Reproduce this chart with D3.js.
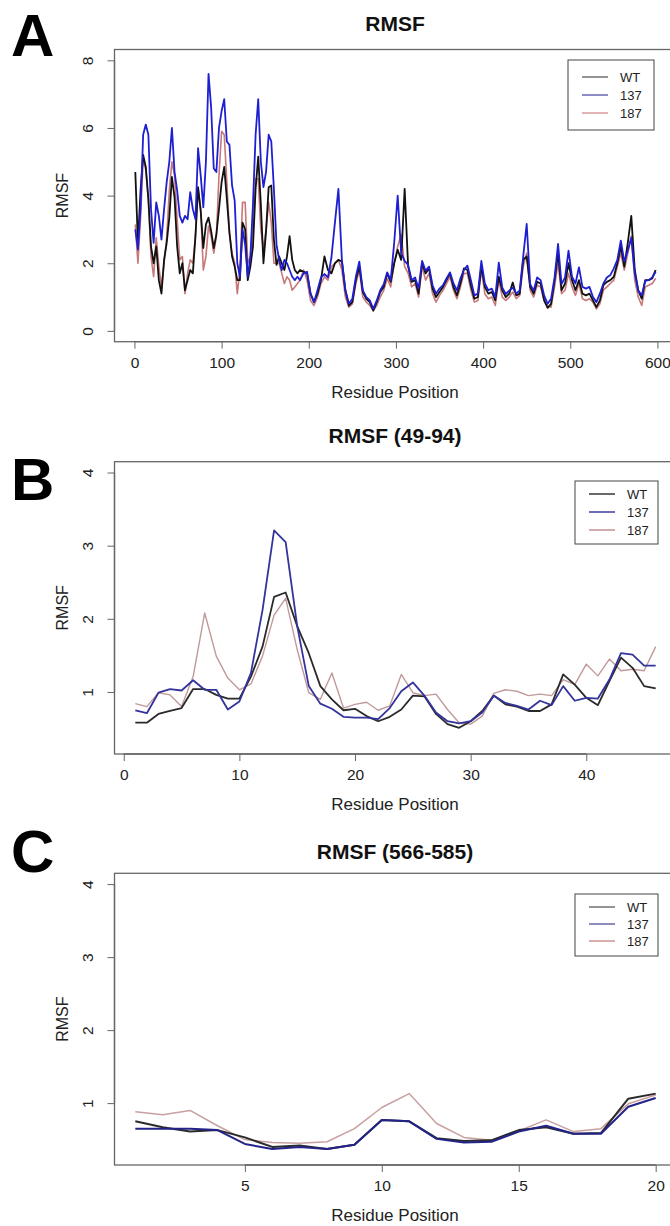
<!DOCTYPE html>
<html><head><meta charset="utf-8">
<script src="https://cdn.jsdelivr.net/npm/d3@7"></script>
<style>body{margin:0;background:#fff}svg{display:block}text{font-family:"Liberation Sans",Arial,sans-serif}</style>
</head><body><svg id="c" width="670" height="1226"></svg>
<script>
// ---------- DATA ----------
const seriesNames = ["WT", "137", "187"];

// Panel A: residue positions and RMSF values
const posA = [...d3.range(1, 190, 3), ...d3.range(190, 601, 4)];
const wtA = [4.7,2.6,4.15,5.2,4.85,3.9,2.5,2.0,2.5,1.5,
 1.1,2.1,2.6,3.35,4.55,3.95,2.5,1.7,2.0,1.2,
 1.5,1.8,1.7,2.8,4.25,3.55,2.45,3.15,3.35,2.95,
 2.45,2.85,3.6,4.4,4.85,3.9,2.9,2.2,1.9,1.5,
 1.5,3.2,3.0,1.5,1.9,2.5,4.2,5.15,3.75,2.0,
 2.95,4.25,4.3,2.7,1.95,2.2,2.0,1.8,2.2,2.8,
 2.1,1.8,1.7,
 1.8,1.75,1.7,1.1,0.85,1.1,1.5,2.2,1.8,1.7,
 2.0,2.1,2.05,1.2,0.75,0.85,1.5,1.9,1.15,0.95,
 0.85,0.6,0.85,1.15,1.3,1.7,1.45,2.0,2.4,2.1,
 4.2,1.9,1.45,1.5,1.1,2.0,1.7,1.85,1.25,1.0,
 1.15,1.3,1.5,1.7,1.3,1.05,1.4,1.85,1.8,1.35,
 0.95,1.0,1.9,1.3,1.1,1.15,0.9,1.6,1.2,1.0,
 1.1,1.43,1.05,1.1,2.1,2.2,1.3,1.1,1.45,1.4,
 0.9,0.68,0.8,1.5,2.3,1.2,1.4,2.0,1.5,1.2,
 1.5,1.1,1.05,1.1,0.9,0.7,0.9,1.35,1.45,1.5,
 1.6,2.0,2.5,1.9,2.6,3.4,1.8,1.2,0.95,1.5,
 1.5,1.55,1.8];
const m137A = [3.0,2.4,3.6,5.8,6.1,5.8,3.6,2.6,3.8,3.4,
 2.7,3.6,4.4,5.0,6.0,4.7,4.15,3.4,3.2,3.4,
 3.3,4.1,3.6,3.3,5.4,4.6,3.65,5.0,7.6,6.6,
 4.8,4.7,6.0,6.5,6.85,5.6,5.5,4.3,3.85,2.0,
 1.6,3.0,2.55,1.6,2.2,3.75,5.8,6.85,5.0,4.25,
 4.7,5.8,5.6,4.2,2.55,2.1,1.8,2.1,2.0,1.8,
 1.6,1.5,1.6,
 1.5,1.7,1.75,1.1,0.85,1.2,1.58,1.68,1.58,2.17,
 3.2,4.2,2.1,1.2,0.8,0.95,1.6,2.05,1.2,1.0,
 0.9,0.65,0.9,1.2,1.38,1.73,1.5,2.6,4.0,2.3,
 2.07,1.95,1.5,1.58,1.25,2.07,1.78,1.9,1.35,1.1,
 1.25,1.35,1.55,1.73,1.4,1.2,1.55,1.8,1.93,1.5,
 1.05,1.1,2.07,1.4,1.2,1.25,1.0,2.02,1.28,1.09,
 1.19,1.28,1.1,1.2,2.2,3.16,1.38,1.19,1.58,1.5,
 1.05,0.8,0.95,1.58,2.57,1.38,1.58,2.37,1.6,1.4,
 1.88,1.3,1.25,1.3,1.0,0.85,1.1,1.4,1.58,1.65,
 1.85,2.1,2.67,2.05,2.37,2.75,1.7,1.19,1.05,1.48,
 1.5,1.58,1.75];
const m187A = [3.15,2.0,3.35,5.1,4.75,3.85,2.2,1.6,2.75,1.9,
 1.3,2.0,2.75,4.15,5.0,4.6,3.3,2.1,2.2,1.1,
 1.7,2.1,2.0,2.8,4.2,3.6,1.8,2.2,3.1,2.8,
 2.3,2.8,4.6,5.9,5.8,4.4,2.9,2.3,2.0,1.1,
 1.8,3.8,3.8,2.0,2.2,3.1,4.5,4.5,3.0,2.4,
 3.0,3.8,3.2,2.0,2.0,2.0,1.7,1.4,1.6,1.5,
 1.2,1.3,1.4,
 1.5,1.8,1.5,0.9,0.75,1.0,1.4,1.6,1.5,1.9,
 2.0,2.1,1.8,1.0,0.7,0.8,1.4,1.8,1.0,0.85,
 0.75,0.6,0.75,1.0,1.2,1.55,1.3,2.0,2.5,2.85,
 1.9,1.7,1.3,1.4,1.0,1.9,1.5,1.7,1.1,0.85,
 1.05,1.2,1.4,1.6,1.2,0.95,1.3,1.7,1.7,1.2,
 0.85,0.9,1.8,1.1,0.95,1.0,0.75,1.5,1.0,0.9,
 1.0,1.15,0.95,1.05,1.9,2.3,1.2,1.0,1.35,1.3,
 0.9,0.72,0.7,1.3,2.0,1.1,1.2,1.7,1.3,1.05,
 1.4,0.95,0.9,0.95,0.85,0.65,0.8,1.2,1.3,1.4,
 1.5,1.9,2.3,1.8,2.3,2.8,1.5,1.0,0.75,1.3,
 1.35,1.4,1.55];

// Panel B: residues 49-94, positions 1..46
const posB = d3.range(1, 47);
const wtB = [0.58,0.58,0.70,0.74,0.78,1.04,1.04,0.96,0.91,0.91,
 1.21,1.62,2.30,2.36,1.90,1.53,1.08,0.90,0.75,0.77,
 0.67,0.60,0.66,0.76,0.95,0.94,0.70,0.56,0.51,0.60,
 0.74,0.95,0.83,0.80,0.74,0.74,0.83,1.24,1.10,0.92,
 0.82,1.15,1.47,1.33,1.08,1.05];
const m137B = [0.75,0.71,0.99,1.04,1.02,1.16,1.03,1.03,0.76,0.87,
 1.26,2.12,3.21,3.05,1.90,1.08,0.84,0.77,0.66,0.65,
 0.65,0.63,0.78,1.01,1.13,0.95,0.72,0.60,0.57,0.60,
 0.72,0.95,0.85,0.81,0.76,0.88,0.82,1.08,0.88,0.92,
 0.91,1.17,1.53,1.51,1.36,1.36];
const m187B = [0.84,0.80,0.99,0.96,0.80,1.21,2.08,1.49,1.19,1.03,
 1.11,1.49,2.05,2.28,1.58,0.99,0.90,1.26,0.78,0.83,
 0.86,0.75,0.81,1.24,0.99,0.95,0.97,0.76,0.58,0.56,
 0.67,0.98,1.03,1.01,0.95,0.97,0.95,1.17,1.10,1.38,
 1.22,1.45,1.29,1.31,1.29,1.62];

// Panel C: residues 566-585, positions 1..20
const posC = d3.range(1, 21);
const wtC = [0.75,0.67,0.61,0.63,0.53,0.40,0.42,0.37,0.43,0.77,0.75,0.52,0.48,0.49,0.63,0.67,0.58,0.59,1.06,1.13];
const m137C = [0.65,0.65,0.65,0.63,0.44,0.37,0.40,0.37,0.43,0.77,0.75,0.51,0.46,0.47,0.61,0.69,0.58,0.58,0.95,1.07];
const m187C = [0.88,0.84,0.90,0.69,0.50,0.46,0.45,0.47,0.65,0.94,1.13,0.72,0.53,0.49,0.62,0.77,0.61,0.65,0.99,1.11];

// Axis ticks
const xTicksA = [0,100,200,300,400,500,600];
const yTicksA = [0,2,4,6,8];
const xTicksB = [0,10,20,30,40];
const xTicksC = [5,10,15,20];
const yTicksBC = [1,2,3,4];

// ---------- DRAW ----------
const svg = d3.select("#c");
const L = 114.5, R = 676.5;
const FF = '"Liberation Sans",Arial,sans-serif';

function panel(o) {
  const g = svg.append("g");
  const ext = d3.extent(o.pos), dx = (ext[1]-ext[0])*0.04;
  const x = d3.scaleLinear().domain([ext[0]-dx, ext[1]+dx]).range([L, R]);
  const dy = (o.ylim[1]-o.ylim[0])*0.04;
  const y = d3.scaleLinear().domain([o.ylim[0]-dy, o.ylim[1]+dy]).range([o.bottom, o.top]);

  g.append("text").attr("x", o.letterX).attr("y", o.letterY).attr("font-size", 60)
    .attr("font-weight", "bold").attr("fill", "#000").text(o.letter);
  g.append("text").attr("x", 395).attr("y", o.titleY).attr("text-anchor", "middle")
    .attr("font-size", 21).attr("font-weight", "bold").attr("fill", "#111").text(o.title);

  const line = d3.line().x((d,i)=>x(o.pos[i])).y(d=>y(d));
  const sets = [o.wt, o.m137, o.m187];
  [2,0,1].forEach(k => {
    g.append("path").attr("d", line(sets[k])).attr("fill", "none")
      .attr("stroke", o.colors[k]).attr("stroke-width", o.lw[k]).attr("stroke-linejoin", "round");
  });

  g.append("rect").attr("x", L).attr("y", o.top).attr("width", R-L).attr("height", o.bottom-o.top)
    .attr("fill", "none").attr("stroke", "#666").attr("stroke-width", 1.3);

  const xa = g.append("g").attr("transform", `translate(0,${o.bottom})`)
    .call(d3.axisBottom(x).tickValues(o.xticks).tickSize(7).tickPadding(8).tickFormat(d3.format("d")));
  xa.select(".domain").attr("stroke", "#666").attr("stroke-width", 1.3)
    .attr("d", `M${x(o.xticks[0])},0H${x(o.xticks[o.xticks.length-1])}`);
  xa.selectAll(".tick line").attr("stroke", "#666");
  xa.selectAll(".tick text").attr("font-size", 15.5).attr("fill", "#222").attr("font-family", FF);

  const ya = g.append("g").attr("transform", `translate(${L},0)`)
    .call(d3.axisLeft(y).tickValues(o.yticks).tickSize(7).tickFormat(d3.format("d")));
  ya.select(".domain").attr("stroke", "#666").attr("stroke-width", 1.3)
    .attr("d", `M0,${y(o.yticks[0])}V${y(o.yticks[o.yticks.length-1])}`);
  ya.selectAll(".tick line").attr("stroke", "#666");
  ya.selectAll(".tick text").attr("font-size", 15.5).attr("fill", "#222").attr("font-family", FF)
    .attr("x", null).attr("text-anchor", "middle")
    .attr("transform", "translate(-26.5,0) rotate(-90)").attr("dy", "0.35em");

  g.append("text").attr("x", 395).attr("y", o.bottom + 56).attr("text-anchor", "middle")
    .attr("font-size", 17).attr("fill", "#222").text("Residue Position");
  g.append("text").attr("transform", `translate(62,${(o.top+o.bottom)/2}) rotate(-90)`)
    .attr("text-anchor", "middle").attr("dy", "0.35em")
    .attr("font-size", 16).attr("fill", "#222").text("RMSF");

  const lg = g.append("g").attr("transform", `translate(${o.leg[0]},${o.leg[1]})`);
  lg.append("rect").attr("width", o.leg[2]).attr("height", o.leg[3])
    .attr("fill", "#fff").attr("stroke", "#444").attr("stroke-width", 1);
  seriesNames.forEach((n, i) => {
    const yy = o.legRow0 + i*o.legStep;
    lg.append("line").attr("x1", 14).attr("x2", 40).attr("y1", yy).attr("y2", yy)
      .attr("stroke", o.legColors[i]).attr("stroke-width", 1.6);
    lg.append("text").attr("x", 52).attr("y", yy).attr("dy", "0.35em")
      .attr("font-size", 13).attr("fill", "#222").text(n);
  });
}

panel({letter:"A", letterX:11, letterY:56, title:"RMSF", titleY:31,
  pos: posA, wt: wtA, m137: m137A, m187: m187A,
  ylim:[0,8], top:49.5, bottom:341.7, xticks:xTicksA, yticks:yTicksA,
  colors:["#111111","#1f1fd2","#c87878"], lw:[1.8,1.8,1.6],
  leg:[568,60,86,70], legRow0:17, legStep:18,
  legColors:["#7a7a7a","#7070b8","#dca0a0"]});

panel({letter:"B", letterX:11, letterY:500, title:"RMSF (49-94)", titleY:443,
  pos: posB, wt: wtB, m137: m137B, m187: m187B,
  ylim:[0.3,4], top:461.7, bottom:754, xticks:xTicksB, yticks:yTicksBC,
  colors:["#2a2a2a","#34349c","#c09a9a"], lw:[1.8,1.8,1.4],
  leg:[575,481,83,63], legRow0:13, legStep:18,
  legColors:["#444444","#4a4aa0","#c49a9a"]});

panel({letter:"C", letterX:11, letterY:872, title:"RMSF (566-585)", titleY:859,
  pos: posC, wt: wtC, m137: m137C, m187: m187C,
  ylim:[0.3,4], top:873.3, bottom:1165, xticks:xTicksC, yticks:yTicksBC,
  colors:["#2a2a2a","#23238a","#c8a0a0"], lw:[2,2,1.5],
  leg:[575,894,83,62], legRow0:13, legStep:17,
  legColors:["#7a7a7a","#7070b0","#d09a9a"]});
</script>
</body></html>
